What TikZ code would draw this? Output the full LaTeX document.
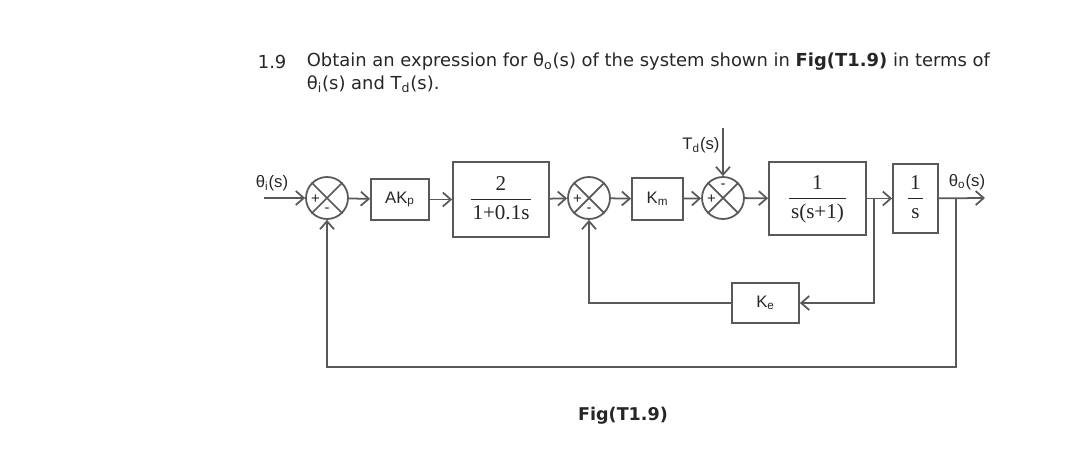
\documentclass[tikz,border=0pt]{standalone}
\usepackage{fontspec}
\setmainfont{Liberation Serif}
\newfontfamily\labelfont{Liberation Sans}
\newfontfamily\titlefont{DejaVu Sans}
\usepackage{tikz}
\usetikzlibrary{arrows.meta, positioning}
\tikzset{>={Straight Barb[length=1.6mm,width=2.8mm]}}
\newcommand{\blkfrac}[2]{{\renewcommand{\arraystretch}{1.15}\setlength{\tabcolsep}{1pt}\begin{tabular}{c}#1\\\hline #2\end{tabular}}}

\begin{document}
\begin{tikzpicture}[line width=1pt, draw=black!65, text=black!85,
    block/.style={draw, rectangle, inner sep=0pt, font=\labelfont\fontsize{9.5}{11}\selectfont},
    fblock/.style={draw, rectangle, inner sep=0pt, font=\fontsize{12}{14}\selectfont},
    sumj/.style={draw, circle, minimum size=0.84cm, inner sep=0pt},
    sgn/.style={inner sep=0pt, font=\labelfont\fontsize{8.5}{9}\selectfont},
    lbl/.style={inner sep=0pt, font=\labelfont\fontsize{9.5}{11}\selectfont},
    qtext/.style={inner sep=0pt, anchor=west, font=\titlefont\fontsize{10.2}{12}\selectfont}]
    \useasboundingbox (0,0) rectangle (21.6,9);
    % question text
    \node[qtext] (qno) at (5.14,7.76) {1.9};
    \node[qtext] (q1) at (6.12,7.76)
        {Obtain an expression for θ\textsubscript{o}(s) of the system shown in \textbf{Fig(T1.9)} in terms of};
    \node[qtext] (q2) at (6.12,7.32)
        {θ\textsubscript{i}(s) and T\textsubscript{d}(s).};
    % forward path
    \coordinate (in) at (5.28,5.04);
    \node[sumj] (sum1) at (6.54,5.04) {};
    \node[block, minimum width=1.16cm, minimum height=0.82cm] (ak) at (8.0,5.01) {AK\textsubscript{p}};
    \node[fblock, minimum width=1.92cm, minimum height=1.5cm] (g1) at (10.02,5.01) {\blkfrac{2}{1+0.1s}};
    \node[sumj] (sum2) at (11.78,5.04) {};
    \node[block, minimum width=1.02cm, minimum height=0.84cm] (km) at (13.15,5.02) {K\textsubscript{m}};
    \node[sumj] (sum3) at (14.46,5.04) {};
    \node[fblock, minimum width=1.94cm, minimum height=1.46cm] (g2) at (16.35,5.03) {\blkfrac{1}{s(s+1)}};
    \node[fblock, minimum width=0.9cm, minimum height=1.38cm] (g3) at (18.31,5.03) {\blkfrac{1}{s}};
    \coordinate (out) at (19.7,5.04);
    \coordinate (tap1) at (17.48,5.04);
    \coordinate (tap2) at (19.12,5.04);
    \coordinate (td) at (14.46,6.44);
    \node[block, minimum width=1.34cm, minimum height=0.8cm] (ke) at (15.31,2.94) {K\textsubscript{e}};
    \coordinate (lowR) at (19.12,1.66);
    % labels
    \node[lbl] (thi) at (5.44,5.34) {θ\textsubscript{i}(s)};
    \node[lbl] (tdl) at (14.02,6.1) {T\textsubscript{d}(s)};
    \node[lbl] (tho) at (19.34,5.36) {θ\textsubscript{o}(s)};
    \node[inner sep=0pt, font=\titlefont\bfseries\fontsize{10}{12}\selectfont] (cap) at (12.46,0.68) {Fig(T1.9)};
    % summing junctions
    \foreach \s in {sum1,sum2,sum3}
        \draw (\s.north west) -- (\s.south east) (\s.north east) -- (\s.south west);
    \node[sgn] (p1) at ([xshift=-0.23cm, yshift=-0.03cm]sum1.center) {+};
    \node[sgn] (m1) at ([yshift=-0.25cm]sum1.center) {-};
    \node[sgn] (p2) at ([xshift=-0.23cm, yshift=-0.03cm]sum2.center) {+};
    \node[sgn] (m2) at ([yshift=-0.25cm]sum2.center) {-};
    \node[sgn] (p3) at ([xshift=-0.23cm, yshift=-0.03cm]sum3.center) {+};
    \node[sgn] (m3) at ([yshift=0.23cm]sum3.center) {-};
    % connectors
    \draw[->] (in) -- (sum1);
    \draw[->] (sum1) -- (ak);
    \draw[->] (ak) -- (g1);
    \draw[->] (g1) -- (sum2);
    \draw[->] (sum2) -- (km);
    \draw[->] (km) -- (sum3);
    \draw[->] (sum3) -- (g2);
    \draw[->] (g2) -- (g3);
    \draw[->] (g3) -- (out);
    \draw[->] (td) -- (sum3);
    \draw[->] (tap1) |- (ke);
    \draw[->] (ke) -| (sum2);
    \draw[->] (tap2) -- (lowR) -| (sum1);
\end{tikzpicture}
\end{document}
